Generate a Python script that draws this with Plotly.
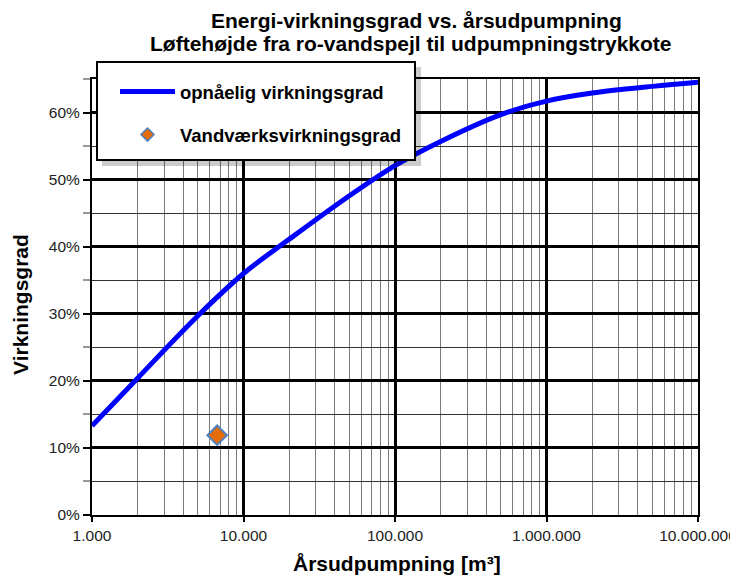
import plotly.graph_objects as go

# Data
pumping = [1000, 2000, 5000, 10000, 20000, 50000, 100000,
           200000, 500000, 1000000, 2000000, 5000000, 10000000]
efficiency = [0.133, 0.204, 0.297, 0.360, 0.411, 0.476, 0.521,
              0.557, 0.597, 0.617, 0.629, 0.639, 0.645]

waterworks_x = [6700]
waterworks_y = [0.119]

x_tickvals = [1000, 10000, 100000, 1000000, 10000000]
x_ticktext = ["1.000", "10.000", "100.000", "1.000.000", "10.000.000"]

title_lines = ["Energi-virkningsgrad vs. årsudpumpning",
               "Løftehøjde fra ro-vandspejl til udpumpningstrykkote"]
x_title = "Årsudpumpning [m³]"
y_title = "Virkningsgrad"
line_name = "opnåelig virkningsgrad"
marker_name = "Vandværksvirkningsgrad"

FONT = "Liberation Sans, Arial, sans-serif"

# page offset (body margin) compensation
OFF = 8
W, H = 738 - OFF, 578 - OFF
# plot area in page pixels: left 92, right 698, top 79, bottom 515
ML, MR, MT, MB = 92 - OFF, 738 - 698, 79 - OFF, 578 - 515
PW, PH = W - ML - MR, H - MT - MB


def px(x):
    """page x pixel -> paper coordinate"""
    return (x - OFF - ML) / PW


def py(y):
    """page y pixel -> paper coordinate"""
    return (H - MB - (y - OFF)) / PH


fig = go.Figure()
fig.add_trace(go.Scatter(
    x=pumping, y=efficiency, mode="lines", name="<b>%s</b>" % line_name,
    line=dict(color="#0000FF", width=5, shape="spline", smoothing=1.0),
    legendgroup="a"))
fig.add_trace(go.Scatter(
    x=waterworks_x, y=waterworks_y, mode="markers", name="<b>%s</b>" % marker_name,
    marker=dict(size=15, symbol="diamond", color="#E46C0A",
                line=dict(color="#4F81BD", width=2)),
    showlegend=False, legendgroup="b"))
# legend entry with the smaller legend symbol
fig.add_trace(go.Scatter(
    x=[None], y=[None], mode="markers", name="<b>%s</b>" % marker_name,
    marker=dict(size=10, symbol="diamond", color="#E46C0A",
                line=dict(color="#4F81BD", width=1.5)),
    legendgroup="b"))

# legend box with shadow
fig.add_shape(type="rect", xref="paper", yref="paper",
              x0=px(102), x1=px(421), y0=py(166), y1=py(67),
              fillcolor="rgba(0,0,0,0.2)", line=dict(width=0), layer="above")
fig.add_shape(type="rect", xref="paper", yref="paper",
              x0=px(97), x1=px(415), y0=py(160), y1=py(62),
              fillcolor="white", line=dict(color="black", width=2), layer="above")

annotations = [
    dict(text="<b>%s</b>" % title_lines[0], x=px(416), y=py(20)),
    dict(text="<b>%s</b>" % title_lines[1], x=px(411), y=py(44)),
]
for a in annotations:
    a.update(xref="paper", yref="paper", xanchor="center", yanchor="middle",
             showarrow=False, font=dict(size=21, family=FONT, color="black"))
annotations.append(dict(text="<b>%s</b>" % x_title, x=px(397), y=py(563),
                        xref="paper", yref="paper", xanchor="center", yanchor="middle",
                        showarrow=False, font=dict(size=21, family=FONT, color="black")))
annotations.append(dict(text="<b>%s</b>" % y_title, x=px(20), y=py(305), textangle=-90,
                        xref="paper", yref="paper", xanchor="center", yanchor="middle",
                        showarrow=False, font=dict(size=21, family=FONT, color="black")))

fig.update_layout(
    width=W, height=H,
    margin=dict(l=ML, r=MR, t=MT, b=MB),
    paper_bgcolor="white", plot_bgcolor="white",
    font=dict(family=FONT, color="black"),
    annotations=annotations,
    legend=dict(
        x=px(115), y=py(73), xanchor="left", yanchor="top",
        bgcolor="rgba(0,0,0,0)", borderwidth=0,
        font=dict(size=18.5, family=FONT, color="black"),
        traceorder="grouped", tracegroupgap=16,
        itemwidth=55),
    showlegend=True,
)

fig.update_xaxes(
    type="log", range=[3, 7],
    tickvals=x_tickvals, ticktext=x_ticktext,
    tickfont=dict(size=15.5, family=FONT, color="#222"),
    showline=True, linecolor="black", linewidth=2, mirror=True,
    ticks="outside", ticklen=5, tickcolor="black", tickwidth=2,
    showgrid=True, gridcolor="black", gridwidth=2.5,
    minor=dict(dtick="D1", showgrid=True, gridcolor="#7a7a7a", gridwidth=1.3, ticks=""),
    automargin=False, zeroline=False,
)
fig.update_yaxes(
    range=[0, 0.65], dtick=0.1, tickformat=".0%",
    tickfont=dict(size=15.5, family=FONT, color="#222"),
    showline=True, linecolor="black", linewidth=2, mirror=True,
    ticks="outside", ticklen=7, tickcolor="black", tickwidth=2,
    showgrid=True, gridcolor="black", gridwidth=2.5,
    minor=dict(dtick=0.05, showgrid=True, gridcolor="#333333", gridwidth=1,
               ticks="outside", ticklen=7, tickcolor="#999"),
    automargin=False, zeroline=False,
)

fig.write_html("out.html")
